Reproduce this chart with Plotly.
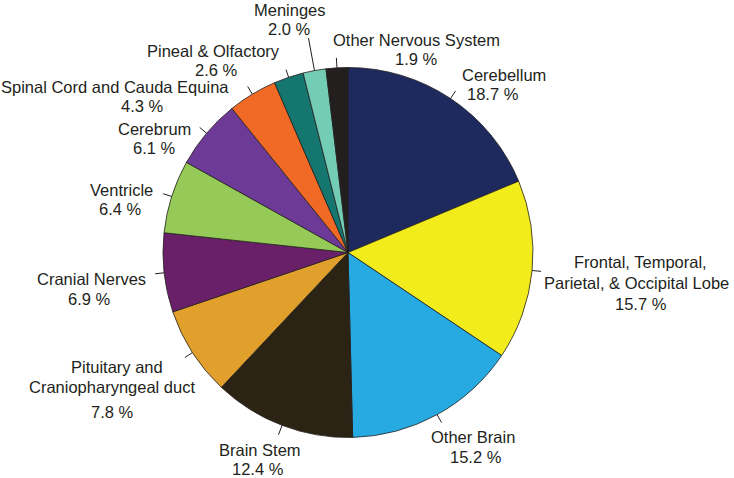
import numpy as np
import plotly.graph_objects as go

# slices, clockwise from 12 o'clock
labels = ["Cerebellum", "Frontal, Temporal, Parietal, & Occipital Lobe", "Other Brain",
          "Brain Stem", "Pituitary and Craniopharyngeal duct", "Cranial Nerves",
          "Ventricle", "Cerebrum", "Spinal Cord and Cauda Equina",
          "Pineal & Olfactory", "Meninges", "Other Nervous System"]
values = [18.7, 15.7, 15.2, 12.4, 7.8, 6.9, 6.4, 6.1, 4.3, 2.6, 2.0, 1.9]
label_lines = [["Cerebellum"], ["Frontal, Temporal,", "Parietal, & Occipital Lobe"], ["Other Brain"],
               ["Brain Stem"], ["Pituitary and", "Craniopharyngeal duct"], ["Cranial Nerves"],
               ["Ventricle"], ["Cerebrum"], ["Spinal Cord and Cauda Equina"],
               ["Pineal & Olfactory"], ["Meninges"], ["Other Nervous System"]]
colors = ["#1e2a5e", "#f2ec1d", "#27aae1", "#2b2313", "#e0a02b", "#6a2068",
          "#96ca58", "#6e3a97", "#f06a26", "#15756f", "#72cdb4", "#231f1f"]

W, H = 734, 478
cx, cy, R = 348, 252.5, 185

# centre of each text line (px), last one is the percentage
line_pos = [[(504, 75), (493, 94)],
            [(640, 262), (636, 283), (641, 304)],
            [(473, 437), (476, 457)],
            [(260, 450), (258, 469)],
            [(117, 367), (112, 387), (112, 412)],
            [(91, 279), (89, 299)],
            [(121, 190), (120, 209)],
            [(154, 129), (154, 148)],
            [(115, 87), (142, 106)],
            [(213, 51), (217, 70)],
            [(290, 10), (289, 29)],
            [(416, 40), (416, 59)]]
tick_len = [9, 9, 9, 10, 9, 9, 9, 9, 9, 8, 33, 10]

fig = go.Figure()
fig.add_trace(go.Pie(
    labels=labels, values=values, sort=False, direction="clockwise", rotation=0,
    textinfo="none", hoverinfo="label+percent",
    marker=dict(colors=colors, line=dict(color="#231f20", width=0.8)),
    domain=dict(x=[(cx - R) / W, (cx + R) / W], y=[(H - cy - R) / H, (H - cy + R) / H]),
    showlegend=False))

cum = np.cumsum(values) - np.array(values) / 2
for i, v in enumerate(values):
    th = np.deg2rad(cum[i] / 100 * 360)
    x0, y0 = cx + R * np.sin(th), cy - R * np.cos(th)
    x1, y1 = cx + (R + tick_len[i]) * np.sin(th), cy - (R + tick_len[i]) * np.cos(th)
    fig.add_shape(type="line", xref="paper", yref="paper",
                  x0=x0 / W, y0=1 - y0 / H, x1=x1 / W, y1=1 - y1 / H,
                  line=dict(color="#231f20", width=1))
    texts = label_lines[i] + ["%.1f %%" % v]
    for t, (px, py) in zip(texts, line_pos[i]):
        fig.add_annotation(x=px / W, y=1 - py / H, xref="paper", yref="paper",
                           showarrow=False, text=t,
                           font=dict(family="Liberation Sans, Arial", size=16.5, color="#231f20"),
                           xanchor="center", yanchor="middle")

fig.update_layout(width=W, height=H, margin=dict(l=0, r=0, t=0, b=0),
                  paper_bgcolor="white", plot_bgcolor="white")
# drop the default 8px body margin so the figure fills the window
fig.write_html("out.html", config={"displayModeBar": False},
               post_script="document.body.style.margin='0';")
